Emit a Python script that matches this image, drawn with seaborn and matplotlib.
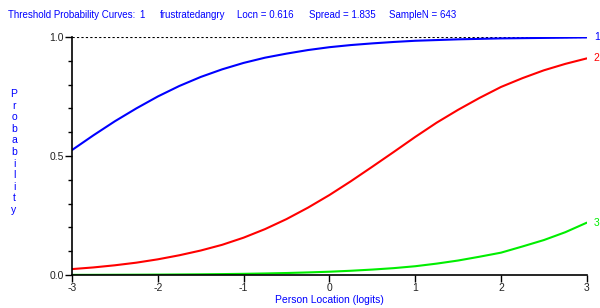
import matplotlib
matplotlib.use("Agg")
import matplotlib.pyplot as plt
import seaborn as sns
import pandas as pd
from matplotlib.ticker import MultipleLocator

# values
locations = [-3.0, -2.75, -2.5, -2.25, -2.0, -1.75, -1.5, -1.25, -1.0, -0.75, -0.5, -0.25,
             0.0, 0.25, 0.5, 0.75, 1.0, 1.25, 1.5, 1.75, 2.0, 2.25, 2.5, 2.75, 3.0]
curve_1 = [0.525, 0.587, 0.646, 0.70, 0.75, 0.794, 0.832, 0.864, 0.891, 0.913, 0.93, 0.945,
           0.957, 0.966, 0.973, 0.979, 0.984, 0.987, 0.99, 0.992, 0.994, 0.995, 0.996, 0.997, 0.998]
curve_2 = [0.025, 0.032, 0.041, 0.052, 0.066, 0.083, 0.103, 0.127, 0.157, 0.193, 0.235, 0.283,
           0.336, 0.394, 0.455, 0.517, 0.58, 0.64, 0.694, 0.744, 0.79, 0.827, 0.86, 0.887, 0.91]
curve_3 = [0.0007, 0.0009, 0.0012, 0.0015, 0.0019, 0.0025, 0.0031, 0.004, 0.0051, 0.0066, 0.0085, 0.011,
           0.014, 0.018, 0.023, 0.029, 0.037, 0.048, 0.061, 0.077, 0.094, 0.12, 0.147, 0.18, 0.22]
curve_names = ["1", "2", "3"]
curve_colors = ["#0000ff", "#ff0000", "#00ee00"]
x_ticks = [-3, -2, -1, 0, 1, 2, 3]
y_ticks = [0.0, 0.5, 1.0]

df = pd.concat([
    pd.DataFrame({"loc": locations, "prob": vals, "curve": name})
    for name, vals in zip(curve_names, [curve_1, curve_2, curve_3])
])

sns.set_style("white")
plt.rcParams["font.family"] = ["Liberation Sans", "DejaVu Sans"]

fig = plt.figure(figsize=(6, 3.08), dpi=100)
ax = fig.add_axes([0.12, 0.107, 0.858, 0.773])

sns.lineplot(data=df, x="loc", y="prob", hue="curve", palette=curve_colors,
             linewidth=1.5, legend=False, ax=ax)
ax.axhline(1.0, color="black", lw=0.8, ls=(0, (2, 2)), zorder=0)

# curve labels at right end
for name, vals, col in zip(curve_names, [curve_1, curve_2, curve_3], curve_colors):
    ax.annotate(name, (locations[-1], vals[-1]), xytext=(5, 0), textcoords="offset points",
                color=col, fontsize=7.5, va="center", ha="left", annotation_clip=False)

ax.set_xlim(-3, 3)
ax.set_ylim(0, 1)
ax.set_xticks(x_ticks)
ax.set_xticklabels([str(t) for t in x_ticks])
ax.set_yticks(y_ticks)
ax.set_yticklabels(["0.0", "0.5", "1.0"])
ax.yaxis.set_minor_locator(MultipleLocator(0.1))
ax.tick_params(axis="both", which="major", direction="out", length=5, width=1,
               color="black", labelsize=7.5, labelcolor="#222222", pad=1, left=True, bottom=True)
ax.tick_params(axis="y", which="minor", direction="out", length=3, width=1, color="black", left=True)
ax.margins(0)

for side in ["top", "right"]:
    ax.spines[side].set_visible(False)
for side in ["left", "bottom"]:
    ax.spines[side].set_color("black")
    ax.spines[side].set_linewidth(1.2)

ax.set_xlabel("")
ax.set_ylabel("")
fig.text(329 / 600, 1 - 300 / 308, "Person Location (logits)", color="#0000ff",
         fontsize=7.5, ha="center", va="center")
fig.text(14 / 600, 1 - 152 / 308, "\n".join("Probability"), color="#0000ff",
         fontsize=7.5, ha="center", va="center", linespacing=1.2)

# title pieces
blue = "#0000ff"
for xp, txt in [(8, "Threshold Probability Curves:"), (139, "1"), (160, "frustratedangry"),
                (237, "Locn = 0.616"), (309, "Spread = 1.835"), (389, "SampleN = 643")]:
    fig.text(xp / 600, 1 - 15 / 308, txt, color=blue, fontsize=7, ha="left", va="center")

plt.savefig("out.png", dpi=100)
plt.close()
